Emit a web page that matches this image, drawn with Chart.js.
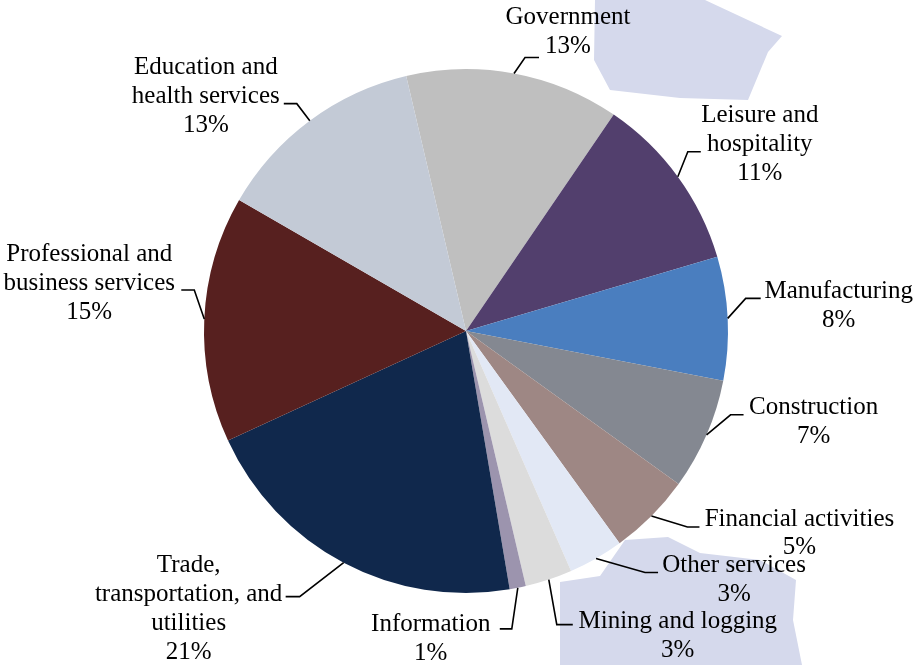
<!DOCTYPE html>
<html>
<head>
<meta charset="utf-8">
<script src="https://cdn.jsdelivr.net/npm/chart.js@4.4.1/dist/chart.umd.min.js"></script>
<style>
html, body { margin: 0; padding: 0; background: #fff; }
#caja { position: relative; width: 913px; height: 665px; overflow: hidden; }
#fondo, #grafica { position: absolute; left: 0; top: 0; }
</style>
</head>
<body>
<div id="caja">
  <!-- marca de agua lavanda del fondo -->
  <svg id="fondo" width="913" height="665">
    <path d="M595 0 L705 0 L782 36 L768 52 L748 100 L680 98 L610 90 L594 60 Z" fill="#d5d9ec"/>
    <path d="M560 582 L600 576 L625 540 L668 537 L700 553 L760 560 L796 580 L793 620 L802 665 L560 665 Z" fill="#d5d9ec"/>
  </svg>
  <canvas id="grafica" width="913" height="665"></canvas>
</div>

<script>
/* ==========================================================
   DATOS
========================================================== */
const sectores = [
    "Government",
    "Leisure and hospitality",
    "Manufacturing",
    "Construction",
    "Financial activities",
    "Other services",
    "Mining and logging",
    "Information",
    "Trade, transportation, and utilities",
    "Professional and business services",
    "Education and health services"
];

// lineas de texto de cada etiqueta
const lineasEtiqueta = [
    ["Government"],
    ["Leisure and", "hospitality"],
    ["Manufacturing"],
    ["Construction"],
    ["Financial activities"],
    ["Other services"],
    ["Mining and logging"],
    ["Information"],
    ["Trade,", "transportation, and", "utilities"],
    ["Professional and", "business services"],
    ["Education and", "health services"]
];

const porcentajes = [13.2, 10.9, 7.6, 6.9, 5.1, 3.4, 2.9, 1.0, 20.8, 15.2, 13.0];

const colores = [
    "#bfbfbf",
    "#523f6d",
    "#4a7ebf",
    "#848891",
    "#9e8784",
    "#e2e8f5",
    "#dcdcdc",
    "#9c94ae",
    "#10284c",
    "#57201f",
    "#c3cad6"
];

/* posicion de etiquetas: desplazamientos desde el borde de cada sector
   [codoX, codoY, finX, finY, textoX, textoY(primera linea)] */
const guias = [
    [11, -16, 25, -16, 54, -56],
    [10, -25, 23, -25, 82, -61],
    [18, -20, 33, -20, 111, -27],
    [24, -20, 37, -20, 107, -27],
    [36, 11, 48, 11, 148, 3],
    [49, 14, 62, 14, 138, 7],
    [8, 45, 24, 45, 129, 42],
    [-6, 41, -18, 41, -87, 37],
    [-44, 34, -58, 34, -155, 3],
    [-10, -29, -23, -29, -115, -64],
    [-13, -17, -26, -17, -104, -53]
];

const ALTO_LINEA = 28.8;

/* ==========================================================
   ETIQUETAS CON LINEAS GUIA
========================================================== */
const pluginEtiquetas = {
    id: "etiquetas",
    afterDatasetsDraw(chart) {

        const ctx = chart.ctx;
        const meta = chart.getDatasetMeta(0);

        ctx.save();
        ctx.font = '25px "Liberation Serif", "Times New Roman", serif';
        ctx.textAlign = "center";
        ctx.textBaseline = "middle";
        ctx.fillStyle = "#000";
        ctx.strokeStyle = "#000";
        ctx.lineWidth = 1.6;

        meta.data.forEach((arco, i) => {

            const p = arco.getProps(
                ["x", "y", "startAngle", "endAngle", "outerRadius"], true
            );

            const a = (p.startAngle + p.endAngle) / 2;
            const ex = p.x + Math.cos(a) * p.outerRadius;
            const ey = p.y + Math.sin(a) * p.outerRadius;
            const g = guias[i];

            ctx.beginPath();
            ctx.moveTo(ex, ey);
            ctx.lineTo(ex + g[0], ey + g[1]);
            ctx.lineTo(ex + g[2], ey + g[3]);
            ctx.stroke();

            const lineas = lineasEtiqueta[i].concat(
                [Math.round(porcentajes[i]) + "%"]
            );

            lineas.forEach((t, k) => {
                ctx.fillText(t, ex + g[4], ey + g[5] + k * ALTO_LINEA);
            });
        });

        ctx.restore();
    }
};

/* ==========================================================
   GRAFICA
========================================================== */
new Chart(document.getElementById("grafica"), {
    type: "pie",
    data: {
        labels: sectores,
        datasets: [{
            data: porcentajes,
            backgroundColor: colores,
            borderWidth: 0
        }]
    },
    options: {
        responsive: false,
        animation: false,
        devicePixelRatio: 1,
        rotation: -13.2,
        layout: {
            padding: { left: 204, right: 185, top: 69, bottom: 72 }
        },
        plugins: {
            legend: { display: false },
            tooltip: { enabled: false }
        }
    },
    plugins: [pluginEtiquetas]
});
</script>
</body>
</html>
